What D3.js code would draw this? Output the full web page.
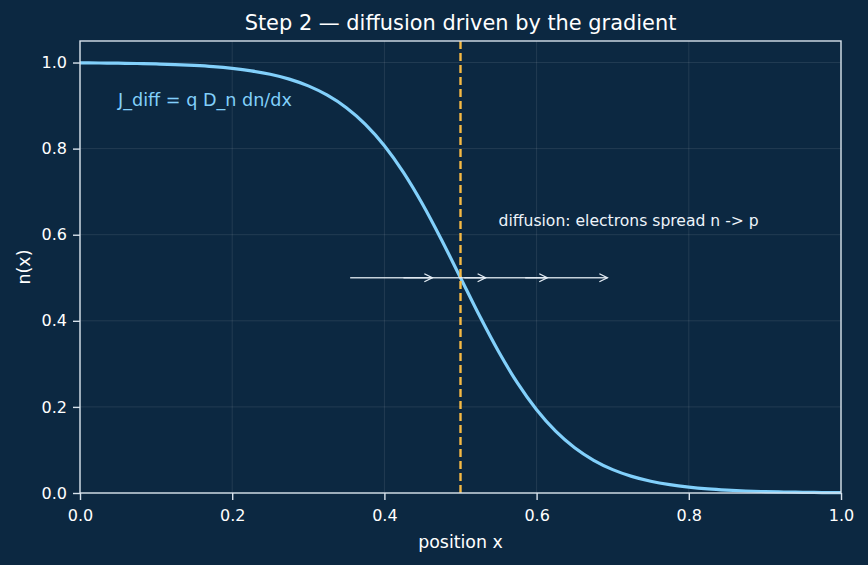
<!DOCTYPE html>
<html><head><meta charset="utf-8">
<script src="https://cdn.jsdelivr.net/npm/d3@7"></script>
<style>html,body{margin:0;padding:0;background:#0c2841;}svg{display:block;}</style>
</head><body>
<script>
const xPos = [0,0.025,0.05,0.075,0.1,0.125,0.15,0.175,0.2,0.225,0.25,0.275,0.3,0.325,0.35,0.375,0.4,0.425,0.45,0.475,0.5,0.525,0.55,0.575,0.6,0.625,0.65,0.675,0.7,0.725,0.75,0.775,0.8,0.825,0.85,0.875,0.9,0.925,0.95,0.975,1.0];
const nVals = [0.9992,0.9989,0.9984,0.9977,0.9967,0.9953,0.9933,0.9905,0.9864,0.9807,0.9727,0.9614,0.9457,0.9241,0.8950,0.8564,0.8067,0.7449,0.6714,0.5884,0.5,0.4116,0.3286,0.2551,0.1933,0.1436,0.1050,0.0759,0.0543,0.0386,0.0273,0.0193,0.0136,0.0095,0.0067,0.0047,0.0033,0.0023,0.0016,0.0011,0.0008];
const arrowStart = [0.355,0.425,0.505,0.585];
const arrowEnd = [0.463,0.533,0.614,0.693];
const arrowY = 0.5;
const junctionX = 0.5;
const xTicks = [0,0.2,0.4,0.6,0.8,1.0];
const yTicks = [0,0.2,0.4,0.6,0.8,1.0];

const W=868,H=565, m={l:80,r:27,t:41,b:72};
const svg=d3.select("body").append("svg").attr("width",W).attr("height",H);
svg.append("rect").attr("width",W).attr("height",H).attr("fill","#0c2841");
const x=d3.scaleLinear().domain([0,1]).range([m.l,W-m.r]);
const y=d3.scaleLinear().domain([0,1.05]).range([H-m.b,m.t]);
const font="DejaVu Sans, sans-serif";
const fg="#ffffff", spine="#d8e2ec";

// grid
const g=svg.append("g");
g.selectAll(".gx").data(xTicks).join("line").attr("x1",d=>x(d)).attr("x2",d=>x(d)).attr("y1",y(0)).attr("y2",y(1.05))
 .attr("stroke","#ffffff").attr("stroke-opacity",0.12).attr("stroke-width",0.8);
g.selectAll(".gy").data(yTicks).join("line").attr("y1",d=>y(d)).attr("y2",d=>y(d)).attr("x1",x(0)).attr("x2",x(1))
 .attr("stroke","#ffffff").attr("stroke-opacity",0.12).attr("stroke-width",0.8);

// curve
const line=d3.line().x((d,i)=>x(xPos[i])).y(d=>y(d)).curve(d3.curveMonotoneX);
svg.append("path").datum(nVals).attr("d",line).attr("fill","none").attr("stroke","#82d0fb").attr("stroke-width",3.2);

// dashed junction line
svg.append("line").attr("x1",x(junctionX)).attr("x2",x(junctionX)).attr("y1",y(0)).attr("y2",y(1.05))
 .attr("stroke","#f5b944").attr("stroke-width",2.4).attr("stroke-dasharray","8,4");

// arrows
svg.append("defs").append("marker").attr("id","ah").attr("viewBox","-10 -6 12 12").attr("refX",0).attr("refY",0)
 .attr("markerWidth",12).attr("markerHeight",12).attr("markerUnits","userSpaceOnUse").attr("orient","auto")
 .append("path").attr("d","M-8,-4 L0,0 L-8,4").attr("fill","none").attr("stroke","#e6eef6").attr("stroke-width",1.3);
svg.selectAll(".arr").data(arrowStart).join("line")
 .attr("x1",d=>x(d)).attr("x2",(d,i)=>x(arrowEnd[i])).attr("y1",y(arrowY)).attr("y2",y(arrowY))
 .attr("stroke","#e6eef6").attr("stroke-opacity",0.85).attr("stroke-width",1.3).attr("marker-end","url(#ah)");

// spines
svg.append("rect").attr("x",x(0)).attr("y",y(1.05)).attr("width",x(1)-x(0)).attr("height",y(0)-y(1.05))
 .attr("fill","none").attr("stroke",spine).attr("stroke-width",1.4);

// axes
const xa=svg.append("g").attr("transform",`translate(0,${y(0)})`).call(d3.axisBottom(x).tickValues(xTicks).tickFormat(d3.format(".1f")).tickSize(7).tickPadding(10));
const ya=svg.append("g").attr("transform",`translate(${x(0)},0)`).call(d3.axisLeft(y).tickValues(yTicks).tickFormat(d3.format(".1f")).tickSize(7).tickPadding(6));
[xa,ya].forEach(a=>{a.select(".domain").remove();a.selectAll("line").attr("stroke",spine).attr("stroke-width",1.4);
 a.selectAll("text").attr("fill",fg).attr("font-family",font).attr("font-size",16);});

// labels
svg.append("text").attr("x",(x(0)+x(1))/2).attr("y",30).attr("text-anchor","middle").attr("fill",fg)
 .attr("font-family",font).attr("font-size",20.9).text("Step 2 — diffusion driven by the gradient");
svg.append("text").attr("x",(x(0)+x(1))/2).attr("y",548).attr("text-anchor","middle").attr("fill",fg)
 .attr("font-family",font).attr("font-size",17.4).text("position x");
svg.append("text").attr("transform",`translate(30,${(y(0)+y(1.05))/2}) rotate(-90)`).attr("text-anchor","middle").attr("fill",fg)
 .attr("font-family",font).attr("font-size",17.4).text("n(x)");
svg.append("text").attr("x",x(0.05)).attr("y",y(0.9)).attr("fill","#82d0fb").attr("font-family",font).attr("font-size",17.6)
 .text("J_diff = q D_n dn/dx");
svg.append("text").attr("x",x(0.55)).attr("y",y(0.62)).attr("fill","#eef4fa").attr("font-family",font).attr("font-size",15.6)
 .text("diffusion: electrons spread n -> p");
</script>
</body></html>
